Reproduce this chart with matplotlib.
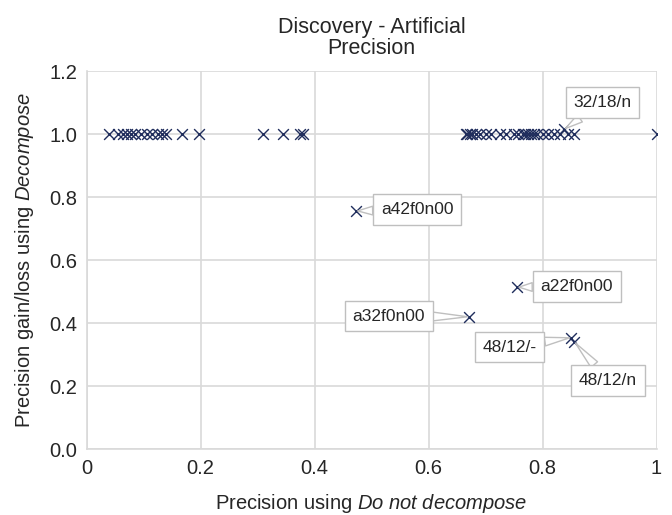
import matplotlib
matplotlib.use("Agg")
import matplotlib.pyplot as plt

plt.rcParams['font.family'] = ['Liberation Sans', 'DejaVu Sans']
plt.rcParams['mathtext.fontset'] = 'custom'
plt.rcParams['mathtext.rm'] = 'Liberation Sans'
plt.rcParams['mathtext.it'] = 'Liberation Sans:italic'

# unlabelled points on the 1.0 line
flat_x = [0.04, 0.055, 0.063, 0.07, 0.078, 0.085, 0.095, 0.105, 0.115, 0.125, 0.132, 0.14,
          0.168, 0.197, 0.31, 0.345, 0.375, 0.38,
          0.665, 0.668, 0.672, 0.677, 0.683, 0.69, 0.70, 0.71, 0.725, 0.735, 0.75, 0.757,
          0.765, 0.77, 0.775, 0.78, 0.785, 0.79, 0.80, 0.81, 0.82, 0.83, 0.845, 0.855, 1.0]
flat_y = [1.0] * len(flat_x)

# labelled points
lab_names = ['32/18/n', 'a42f0n00', 'a22f0n00', 'a32f0n00', '48/12/-', '48/12/n']
lab_x = [0.838, 0.473, 0.756, 0.671, 0.850, 0.856]
lab_y = [1.015, 0.756, 0.514, 0.42, 0.354, 0.34]
txt_x = [0.905, 0.58, 0.86, 0.53, 0.742, 0.915]
txt_y = [1.10, 0.76, 0.516, 0.422, 0.324, 0.218]

navy = '#1f2d5c'
grey = '#d9d9d9'

fig = plt.figure(figsize=(6.72, 5.15), dpi=100)
ax = fig.add_axes([0.129, 0.128, 0.848, 0.734])

ax.scatter(flat_x, flat_y, marker='x', color=navy, s=60, linewidths=1.0, zorder=3)
ax.scatter(lab_x, lab_y, marker='x', color=navy, s=60, linewidths=1.0, zorder=3)

for name, px, py, tx, ty in zip(lab_names, lab_x, lab_y, txt_x, txt_y):
    ax.annotate(name, xy=(px, py), xytext=(tx, ty), ha='center', va='center',
                fontsize=12.5, color='#262626', zorder=4,
                bbox=dict(boxstyle='square,pad=0.45', fc='white', ec='#bfbfbf', lw=1),
                arrowprops=dict(arrowstyle='wedge,tail_width=0.5,shrink_factor=0.5',
                                fc='white', ec='#bfbfbf', lw=1, shrinkA=0, shrinkB=1))

ax.set_xlim(0, 1)
ax.set_ylim(0, 1.2)
ax.set_xticks([0, 0.2, 0.4, 0.6, 0.8, 1])
ax.set_xticklabels(['0', '0.2', '0.4', '0.6', '0.8', '1'])
ax.set_yticks([0, 0.2, 0.4, 0.6, 0.8, 1.0, 1.2])
ax.set_yticklabels(['0.0', '0.2', '0.4', '0.6', '0.8', '1.0', '1.2'])
ax.tick_params(length=0, labelsize=14.5, colors='#262626', pad=7)
ax.grid(True, color=grey, lw=1.2)
ax.set_axisbelow(True)
for s in ['top', 'right']:
    ax.spines[s].set_visible(False)
for s in ['left', 'bottom']:
    ax.spines[s].set_color(grey)
    ax.spines[s].set_linewidth(1.2)

ax.set_xlabel(r'Precision using $\it{Do\ not\ decompose}$', fontsize=14.5, color='#262626', labelpad=10)
ax.set_ylabel(r'Precision gain/loss using $\it{Decompose}$', fontsize=14.5, color='#262626', labelpad=9)
ax.set_title('Discovery - Artificial\nPrecision', fontsize=15.5, color='#262626', pad=12, linespacing=1.05)

fig.savefig('out.png', dpi=100)
